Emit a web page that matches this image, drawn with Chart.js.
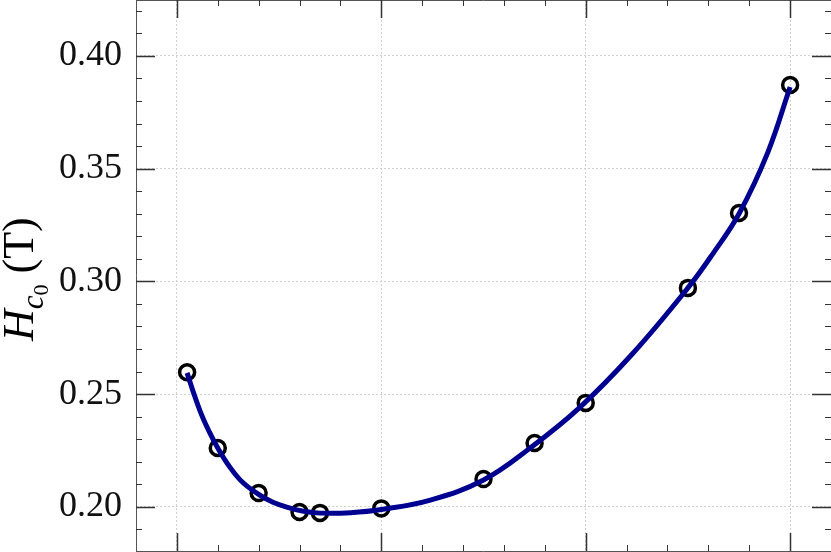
<!DOCTYPE html>
<html>
<head>
<meta charset="utf-8">
<script src="https://cdn.jsdelivr.net/npm/chart.js@4.4.1/dist/chart.umd.min.js"></script>
<style>
  html, body { margin: 0; padding: 0; background: #fff; }
  #wrap { width: 831px; height: 552px; }
</style>
</head>
<body>
<div id="wrap"><canvas id="hcChart" width="831" height="552"></canvas></div>
<script>
// measured points (x in the plot's own units, Hc0 in tesla)
const pointX = [0.05, 0.2, 0.4, 0.6, 0.7, 1.0, 1.5, 1.75, 2.0, 2.5, 2.75, 3.0];
const pointHc = [0.2597, 0.2261, 0.2061, 0.1977, 0.1973, 0.1993, 0.2123, 0.2283, 0.2461, 0.2971, 0.3303, 0.3871];

// fitted curve
const fitX = [0.05, 0.08, 0.12, 0.16, 0.2, 0.26, 0.32, 0.4, 0.47, 0.55, 0.62, 0.7, 0.85, 1.0, 1.24, 1.5, 1.73, 1.97, 2.23, 2.5, 2.62, 2.75, 2.89, 3.0];
const fitHc = [0.2594, 0.2510, 0.2410, 0.2330, 0.2261, 0.2175, 0.2110, 0.2055, 0.2020, 0.1995, 0.1980, 0.1972, 0.1974, 0.1988, 0.2030, 0.2119, 0.2262, 0.2440, 0.2680, 0.2971, 0.3120, 0.3300, 0.3570, 0.3862];

// axis ticks
const xMajorTicks = [0, 1, 2, 3];
const yMajorTicks = [0.20, 0.25, 0.30, 0.35, 0.40];
const xRange = [-0.2, 3.2];
const yRange = [0.1804, 0.4248];

const serif = '"Liberation Serif", "DejaVu Serif", serif';

// inward ticks on all four sides + spines (matplotlib look)
const framePlugin = {
  id: 'frame',
  afterDraw(chart) {
    const ctx = chart.ctx;
    const a = chart.chartArea;
    const xs = chart.scales.x, ys = chart.scales.y;
    ctx.save();
    ctx.strokeStyle = '#555';
    ctx.lineWidth = 1;
    ctx.beginPath();
    ctx.moveTo(a.left + 0.5, a.top);
    ctx.lineTo(a.left + 0.5, a.bottom);
    ctx.moveTo(a.left, a.top + 0.5);
    ctx.lineTo(a.right, a.top + 0.5);
    ctx.moveTo(a.left, a.bottom + 0.5);
    ctx.lineTo(a.right, a.bottom + 0.5);
    ctx.stroke();

    ctx.strokeStyle = '#333';
    const tick = (px, len, vertical) => {
      ctx.beginPath();
      if (vertical) {
        ctx.moveTo(px, a.top); ctx.lineTo(px, a.top + len);
        ctx.moveTo(px, a.bottom); ctx.lineTo(px, a.bottom - len);
      } else {
        ctx.moveTo(a.left, px); ctx.lineTo(a.left + len, px);
        ctx.moveTo(a.right, px); ctx.lineTo(a.right - len, px);
      }
      ctx.stroke();
    };
    // x ticks: majors every 1, minors every 0.2
    for (let v = xRange[0]; v <= xRange[1] + 1e-9; v += 0.2) {
      const r = Math.round(v * 10) / 10;
      const major = xMajorTicks.includes(r);
      const px = Math.round(xs.getPixelForValue(r)) + 0.5;
      if (px <= a.left + 1 || px >= a.right - 1) continue;
      ctx.lineWidth = major ? 1.5 : 1;
      tick(px, major ? 18 : 6, true);
    }
    // y ticks: majors every 0.05, minors every 0.01
    for (let k = 18; k <= 42; k++) {
      const v = k / 100;
      const major = k % 5 === 0;
      const py = Math.round(ys.getPixelForValue(v)) + 0.5;
      if (py <= a.top || py >= a.bottom) continue;
      ctx.lineWidth = major ? 1.5 : 1;
      tick(py, major ? 19 : 6, false);
    }
    ctx.restore();
  }
};

// y axis title H_{c_0} (T) with nested subscripts
const titlePlugin = {
  id: 'ytitle',
  afterDraw(chart) {
    const ctx = chart.ctx;
    ctx.save();
    ctx.translate(33, 341);
    ctx.rotate(-Math.PI / 2);
    ctx.fillStyle = '#000';
    ctx.textBaseline = 'alphabetic';
    let x = 0;
    ctx.font = 'italic 44px ' + serif;
    ctx.fillText('H', x, 0);
    x += ctx.measureText('H').width;
    ctx.font = 'italic 31px ' + serif;
    ctx.fillText('c', x, 10);
    x += ctx.measureText('c').width;
    ctx.font = '22px ' + serif;
    ctx.fillText('0', x, 15);
    x += ctx.measureText('0').width + 11;
    ctx.font = '44px ' + serif;
    ctx.fillText('(T)', x, 0);
    ctx.restore();
  }
};

const ctx = document.getElementById('hcChart').getContext('2d');
const chart = new Chart(ctx, {
  type: 'line',
  data: {
    datasets: [
      {
        label: 'fit',
        data: fitX.map((x, i) => ({ x: x, y: fitHc[i] })),
        borderColor: '#000090',
        borderWidth: 5,
        pointRadius: 0,
        fill: false,
        tension: 0.4
      },
      {
        label: 'data',
        type: 'scatter',
        data: pointX.map((x, i) => ({ x: x, y: pointHc[i] })),
        borderColor: '#000',
        backgroundColor: 'rgba(0,0,0,0)',
        borderWidth: 3.5,
        pointRadius: 7.5,
        pointStyle: 'circle'
      }
    ]
  },
  options: {
    responsive: false,
    devicePixelRatio: 1,
    animation: false,
    layout: { padding: 0, autoPadding: false },
    plugins: {
      legend: { display: false },
      tooltip: { enabled: false }
    },
    scales: {
      x: {
        type: 'linear',
        position: 'bottom',
        min: xRange[0],
        max: xRange[1],
        afterBuildTicks: (s) => { s.ticks = xMajorTicks.map(v => ({ value: v })); },
        afterFit: (s) => { s.height = 1; s.paddingLeft = 0; s.paddingRight = 0; },
        ticks: { display: false },
        grid: { color: '#cfcfcf', lineWidth: 1, drawTicks: false },
        border: { display: false, dash: [2, 2] }
      },
      y: {
        type: 'linear',
        position: 'left',
        min: yRange[0],
        max: yRange[1],
        afterBuildTicks: (s) => { s.ticks = yMajorTicks.map(v => ({ value: v })); },
        afterFit: (s) => { s.width = 136; s.paddingTop = 0; s.paddingBottom = 0; },
        ticks: {
          padding: 14,
          color: '#111',
          font: { family: serif, size: 36 },
          callback: (v) => v.toFixed(2)
        },
        grid: { color: '#cfcfcf', lineWidth: 1, drawTicks: false },
        border: { display: false, dash: [2, 2] }
      }
    }
  },
  plugins: [framePlugin, titlePlugin]
});
</script>
</body>
</html>
